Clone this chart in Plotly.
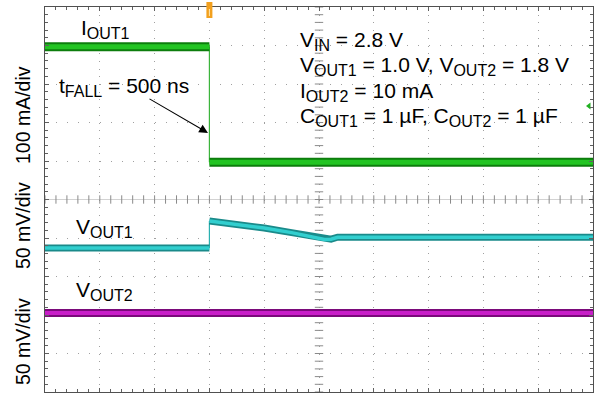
import numpy as np
import plotly.graph_objects as go

# ---- scope settings -------------------------------------------------------
N_DIV = 10                      # graticule divisions per axis
I_SCALE = 100.0                 # mA per division (channel 1)
V_SCALE = 50.0                  # mV per division (channels 2, 3)
CH1_ZERO = 5.97                 # division where IOUT1 = 0 mA
CH2_ZERO = 3.74                 # division of VOUT1 reference level
CH3_ZERO = 2.05                 # division of VOUT2 reference level
T_TRIG = 3.0                    # trigger position (divisions from left)

# ---- waveforms (time in divisions) ---------------------------------------
iout1_t = [0.0, 3.0, 3.0, 10.0]
iout1_ma = [300.0, 300.0, 0.0, 0.0]

vout1_t = [0.0, 3.0, 3.0, 3.5, 4.0, 4.5, 4.98, 5.1, 5.22, 5.34, 10.0]
vout1_mv = [0.0, 0.0, 35.0, 31.0, 26.0, 20.0, 13.0, 11.0, 11.5, 14.0, 14.0]

vout2_t = [0.0, 10.0]
vout2_mv = [0.0, 0.0]

# ---- test-condition lines -------------------------------------------------
conditions = [
    [("V", "IN"), " = 2.8 V"],
    [("V", "OUT1"), " = 1.0 V, ", ("V", "OUT2"), " = 1.8 V"],
    [("I", "OUT2"), " = 10 mA"],
    [("C", "OUT1"), " = 1 µF, ", ("C", "OUT2"), " = 1 µF"],
]

# ---- page geometry (pixels) ----------------------------------------------
W, H = 597, 393
ML, MR, MT, MB = 45, 4, 7, 1
PW, PH = W - ML - MR, H - MT - MB

FONT = "Liberation Sans, Arial, Helvetica, sans-serif"
FS = 21          # main text size
FS_SUB = 16      # subscript size


def xdiv(px):
    return (px - ML) / PW * N_DIV


def ydiv(py):
    return N_DIV - (py - MT) / PH * N_DIV


def sub(s):
    return f"<sub><span style='font-size:{FS_SUB}px'>{s}</span></sub>"


def rich(parts):
    out = ""
    for p in parts:
        out += p[0] + sub(p[1]) if isinstance(p, tuple) else p
    return out


i_div = [CH1_ZERO + v / I_SCALE for v in iout1_ma]
v1_div = [CH2_ZERO + v / V_SCALE for v in vout1_mv]
v2_div = [CH3_ZERO + v / V_SCALE for v in vout2_mv]


def split_steps(t, y):
    """Break a waveform at vertical edges so the edge can be drawn thin."""
    xs, ys, ex, ey = [], [], [], []
    for k in range(len(t)):
        if k > 0 and t[k] == t[k - 1]:
            xs.append(None)
            ys.append(None)
            ex += [t[k - 1], t[k], None]
            ey += [y[k - 1], y[k], None]
        xs.append(t[k])
        ys.append(y[k])
    return xs, ys, ex, ey


fig = go.Figure()


def add_band(t, y, dark, light, w_out, w_in, edge):
    xs, ys, ex, ey = split_steps(t, y)
    if ex:
        fig.add_trace(go.Scatter(x=ex, y=ey, mode="lines", hoverinfo="skip",
                                 line=dict(color=edge, width=1.2)))
    fig.add_trace(go.Scatter(x=xs, y=ys, mode="lines", hoverinfo="skip",
                             line=dict(color=dark, width=w_out)))
    fig.add_trace(go.Scatter(x=xs, y=ys, mode="lines", hoverinfo="skip",
                             line=dict(color=light, width=w_in)))


# centre cross with minor tick marks
minor = np.round(np.arange(0, N_DIV + 1e-9, 0.2), 3)
fig.add_trace(go.Scatter(x=[0, N_DIV], y=[5, 5], mode="lines", hoverinfo="skip",
                         line=dict(color="#d2d2d2", width=1)))
fig.add_trace(go.Scatter(x=minor, y=[5] * len(minor), mode="markers", hoverinfo="skip",
                         marker=dict(symbol="line-ns", size=6,
                                     line=dict(color="#8a8a8a", width=1))))
fig.add_trace(go.Scatter(x=[5] * len(minor), y=minor, mode="markers", hoverinfo="skip",
                         marker=dict(symbol="line-ew", size=6,
                                     line=dict(color="#8a8a8a", width=1))))

add_band(iout1_t, i_div, "#0c7d0c", "#22c422", 9, 5, "#3cb43c")
add_band(vout1_t, v1_div, "#1a8a8a", "#32cfcf", 7, 3.5, "#2ab0b0")
add_band(vout2_t, v2_div, "#7a0a7a", "#c81ec8", 8, 4, "#a010a0")

# channel 1 ground-level marker
fig.add_trace(go.Scatter(x=[xdiv(589)], y=[ydiv(106)], mode="markers", hoverinfo="skip",
                         cliponaxis=False,
                         marker=dict(symbol="triangle-left", size=6, color="#22b022")))

# trigger-position marker above the graticule
tx = (T_TRIG / N_DIV)
fig.add_shape(type="rect", xref="paper", yref="paper",
              x0=tx - 3 / PW, x1=tx + 3 / PW,
              y0=1 - (18 - MT) / PH, y1=1 + (MT - 2) / PH,
              fillcolor="#f2a01e", line=dict(width=0), layer="above")
fig.add_shape(type="line", xref="paper", yref="paper",
              x0=tx, x1=tx, y0=1 - (16 - MT) / PH, y1=1 - (9 - MT) / PH,
              line=dict(color="#fde6b0", width=1), layer="above")

txt = dict(family=FONT, size=FS, color="black")
annos = [
    dict(x=xdiv(79), y=ydiv(29), text="I" + sub("OUT1")),
    dict(x=xdiv(57), y=ydiv(87), text="t" + sub("FALL") + " = 500 ns"),
    dict(x=xdiv(74), y=ydiv(228), text="V" + sub("OUT1")),
    dict(x=xdiv(74), y=ydiv(291), text="V" + sub("OUT2")),
]
for k, line in enumerate(conditions):
    annos.append(dict(x=xdiv(298), y=ydiv(41 + 25.3 * k), text=rich(line)))

for a in annos:
    fig.add_annotation(xref="x", yref="y", x=a["x"], y=a["y"], text=a["text"],
                       showarrow=False, xanchor="left", yanchor="middle",
                       align="left", font=txt)

# arrow pointing at the falling edge
fig.add_annotation(xref="x", yref="y", axref="x", ayref="y",
                   x=xdiv(208), y=ydiv(133), ax=xdiv(148), ay=ydiv(98),
                   text="", showarrow=True, arrowhead=2, arrowsize=1.6,
                   arrowwidth=1.1, arrowcolor="black", standoff=0)

# vertical-scale labels
for yc, lab in [(115, "100 mA/div"), (226, "50 mV/div"), (342, "50 mV/div")]:
    fig.add_annotation(xref="paper", yref="paper", x=(23 - ML) / PW,
                       y=1 - (yc - MT) / PH, text=lab, textangle=-90,
                       showarrow=False, xanchor="center", yanchor="middle",
                       font=dict(family=FONT, size=19.5, color="black"))

axis_common = dict(range=[0, N_DIV], dtick=1, tick0=0, showticklabels=False,
                   showgrid=True, gridcolor="#a0a0a0", gridwidth=1,
                   showline=True, linecolor="#505050", linewidth=1, mirror="ticks",
                   ticks="inside", ticklen=4, tickcolor="#606060", tickwidth=1,
                   zeroline=False, fixedrange=True,
                   minor=dict(dtick=0.2, tick0=0, ticks="inside", ticklen=3,
                              tickcolor="#606060", showgrid=False))

fig.update_layout(
    width=W, height=H,
    margin=dict(l=ML, r=MR, t=MT, b=MB),
    paper_bgcolor="white", plot_bgcolor="white",
    showlegend=False,
    xaxis=dict(axis_common, griddash="1px,6.7px"),
    yaxis=dict(axis_common, griddash="1px,9.96px"),
)

fig.write_html("out.html")
